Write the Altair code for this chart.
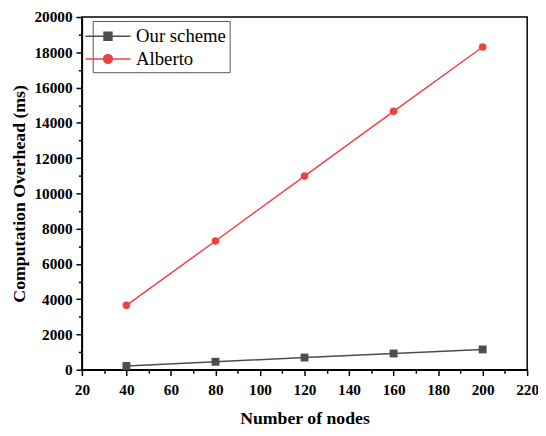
import altair as alt
import pandas as pd

nodes = [40, 80, 120, 160, 200]
our_scheme = [210, 450, 690, 920, 1150]
alberto = [3650, 7300, 10980, 14650, 18300]
series_names = ["Our scheme", "Alberto"]
colors = ["#4d4d4d", "#f04141"]
x_ticks = list(range(20, 221, 10))      # major every 20, minor in between
y_ticks = list(range(0, 20001, 1000))   # major every 2000, minor in between
legend_paths = [
    "M-2,0H2M-0.35,-0.35H0.35V0.35H-0.35Z",
    "M-2,0H2M-0.39,0A0.39,0.39,0,1,0,0.39,0A0.39,0.39,0,1,0,-0.39,0Z",
]

df = pd.DataFrame({
    "nodes": nodes * 2,
    "value": our_scheme + alberto,
    "series": [series_names[0]] * len(nodes) + [series_names[1]] * len(nodes),
})

FONT = "Liberation Serif"
xscale = alt.Scale(domain=[20, 220], nice=False, zero=False)
yscale = alt.Scale(domain=[0, 20000], nice=False)
cscale = alt.Scale(domain=series_names, range=colors)

common_axis = dict(
    grid=False, tickColor="black", tickWidth=1.5, domainColor="black", domainWidth=1.5,
    labelFont=FONT, labelFontWeight="bold", labelFontSize=15.5, labelColor="black",
    titleFont=FONT, titleFontWeight="bold", titleFontSize=18, titleColor="black",
    labelOverlap=False, labelFlush=False,
)

x_axis = alt.Axis(
    values=x_ticks, title="Number of nodes", orient="bottom",
    tickSize={"condition": {"test": "datum.value % 20 === 0", "value": 6}, "value": 3.5},
    labelExpr="datum.value % 20 === 0 ? datum.label : ''",
    labelPadding=7, titlePadding=12, **common_axis,
)
y_axis = alt.Axis(
    values=y_ticks, title="Computation Overhead (ms)", orient="left", format="d",
    tickSize={"condition": {"test": "datum.value % 2000 === 0", "value": 6}, "value": 3.5},
    labelExpr="datum.value % 2000 === 0 ? datum.label : ''",
    labelPadding=4, titlePadding=5, **common_axis,
)

legend = alt.Legend(
    title=None, orient="none", legendX=11, legendY=4,
    labelFont=FONT, labelFontSize=19, labelColor="black", labelFontWeight="normal",
    symbolSize=522, symbolStrokeWidth=1.5, labelOffset=16, symbolOpacity=1,
    strokeColor="#555555", fillColor="white", padding=3, rowPadding=0,
)

legend_layer = alt.Chart(df).mark_point(
    filled=True, fillOpacity=0, strokeOpacity=0, strokeWidth=1.5
).encode(
    x=alt.X("nodes:Q", scale=xscale, axis=x_axis),
    y=alt.Y("value:Q", scale=yscale, axis=y_axis),
    color=alt.Color("series:N", scale=cscale, legend=legend),
    stroke=alt.Stroke("series:N", scale=cscale, legend=legend),
    shape=alt.Shape("series:N", scale=alt.Scale(domain=series_names, range=legend_paths), legend=legend),
)

lines = alt.Chart(df).mark_line(strokeWidth=1.5).encode(
    x=alt.X("nodes:Q", scale=xscale, axis=x_axis),
    y=alt.Y("value:Q", scale=yscale, axis=y_axis),
    color=alt.Color("series:N", scale=cscale, legend=None),
    detail="series:N",
)

squares = alt.Chart(df).transform_filter(
    alt.datum.series == series_names[0]
).mark_point(shape="square", filled=True, size=64, opacity=1).encode(
    x=alt.X("nodes:Q", scale=xscale, axis=x_axis),
    y=alt.Y("value:Q", scale=yscale, axis=y_axis),
    color=alt.Color("series:N", scale=cscale, legend=None),
)

circles = alt.Chart(df).transform_filter(
    alt.datum.series == series_names[1]
).mark_point(shape="circle", filled=True, size=60, opacity=1).encode(
    x=alt.X("nodes:Q", scale=xscale, axis=x_axis),
    y=alt.Y("value:Q", scale=yscale, axis=y_axis),
    color=alt.Color("series:N", scale=cscale, legend=None),
)

chart = alt.layer(legend_layer, lines, squares, circles).properties(
    width=452, height=358,
    autosize=alt.AutoSizeParams(type="none"),
    padding={"left": 75, "top": 6, "right": 11, "bottom": 56},
).configure_view(stroke="black", strokeWidth=1.5)

chart.save("out.html", embed_options={"renderer": "svg", "actions": False})
